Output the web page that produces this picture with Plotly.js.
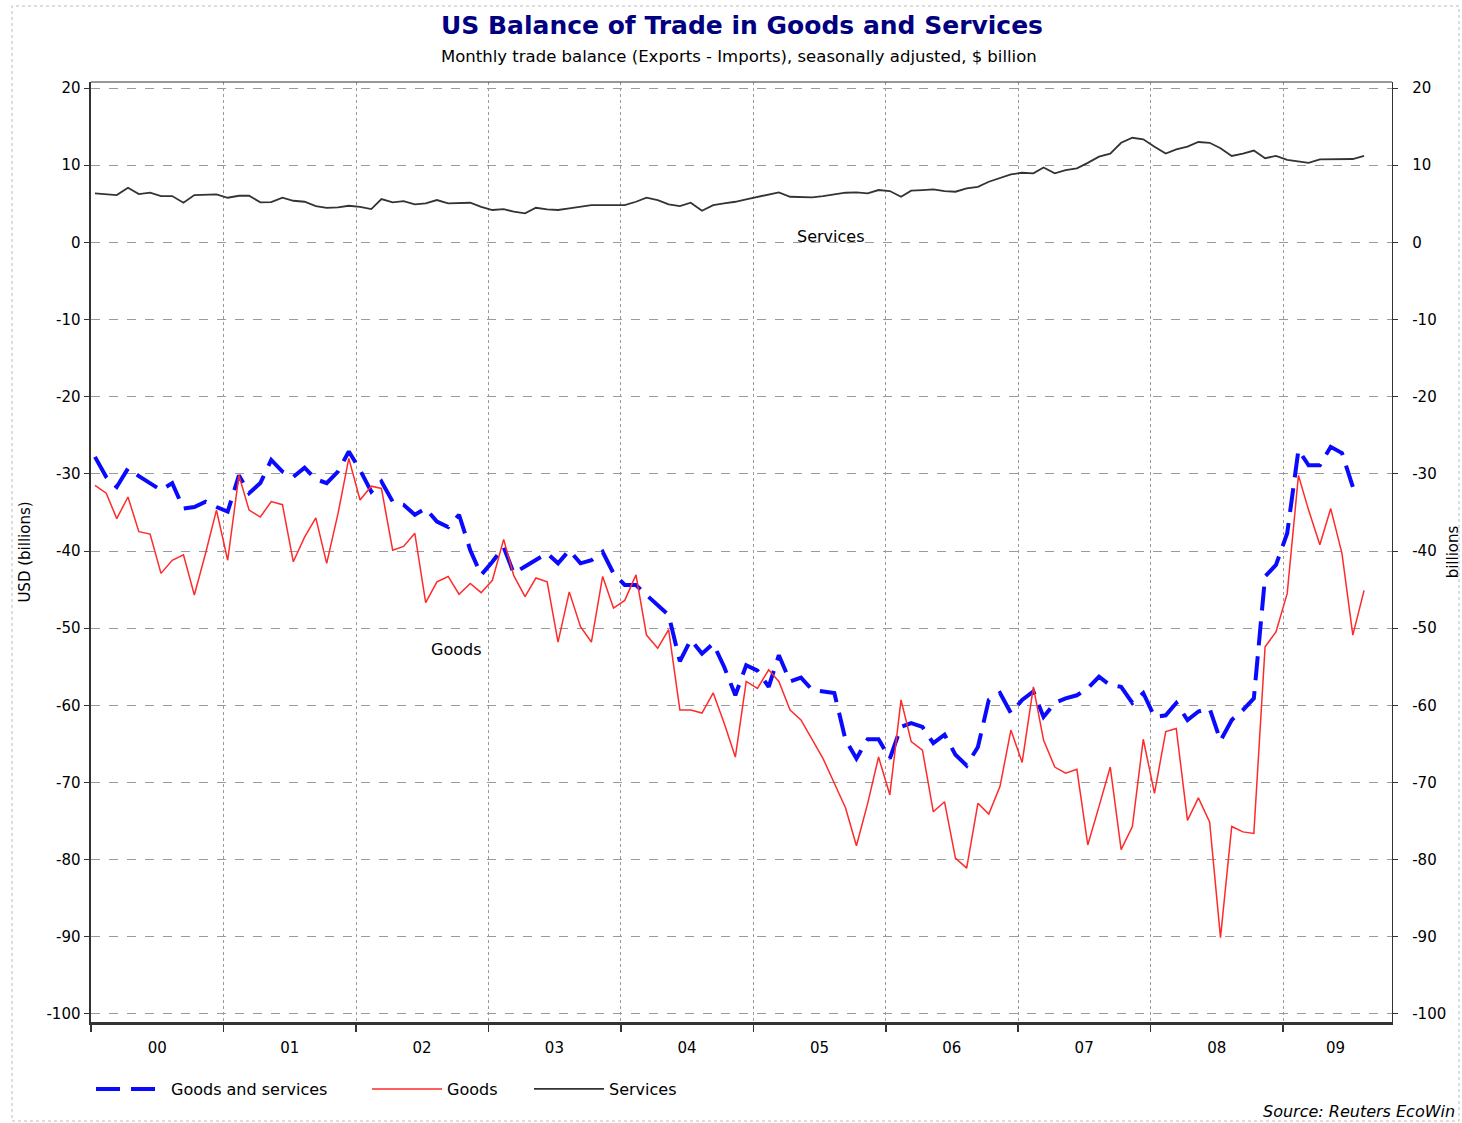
<!DOCTYPE html>
<html>
<head>
<meta charset="utf-8">
<script src="https://cdn.plot.ly/plotly-3.0.1.min.js"></script>
<style>
  html, body { margin: 0; padding: 0; background: #fff; }
  #chart { width: 1462px; height: 1123px; }
</style>
</head>
<body>
<div id="chart"></div>
<script>
// ---- Data (monthly, Jan 2000 onwards, $ billion) ----
const startYear = 2000;

const goodsAndServices = [
  -27.8, -30.4, -31.7, -29.3, -30.3, -31.2, -32.1, -31.2, -34.5, -34.3, -33.6, -34.3,
  -34.9, -30.2, -32.5, -31.2, -28.2, -29.7, -30.4, -29.2, -30.7, -31.2, -29.7, -27.1,
  -29.5, -32.3, -31.0, -33.6, -34.0, -35.3, -34.5, -36.2, -36.9, -35.3, -39.9, -43.1,
  -41.4, -39.5, -42.9, -42.0, -41.2, -40.3, -41.6, -39.9, -41.6, -41.2, -40.1, -42.9,
  -44.4, -44.4, -45.7, -47.0, -48.3, -54.3, -51.5, -53.3, -52.0, -55.0, -58.7, -54.8,
  -55.5, -57.6, -53.5, -56.9, -56.4, -58.0, -58.2, -58.4, -64.5, -66.9, -64.4, -64.4,
  -66.9, -62.8, -62.3, -62.8, -64.9, -63.8, -66.4, -67.8, -65.4, -59.3, -58.4, -61.0,
  -59.3, -58.2, -61.5, -59.7, -59.1, -58.7, -57.8, -56.3, -57.4, -57.6, -59.7, -58.4,
  -61.5, -61.3, -59.7, -61.9, -60.8, -60.4, -64.6, -61.9, -60.6, -59.1, -43.3, -41.8,
  -37.7, -26.9, -28.9, -28.9, -26.5, -27.3, -31.7
];

const goods = [
  -31.5, -32.5, -35.8, -33.0, -37.5, -37.8, -42.9, -41.2, -40.5, -45.7, -40.3, -34.7,
  -41.2, -30.2, -34.7, -35.6, -33.6, -34.0, -41.4, -38.2, -35.7, -41.6, -35.2, -28.0,
  -33.4, -31.6, -31.9, -39.9, -39.4, -37.7, -46.7, -44.0, -43.3, -45.6, -44.2, -45.4,
  -43.8, -38.5, -43.2, -45.9, -43.5, -44.0, -51.8, -45.3, -49.8, -51.8, -43.3, -47.4,
  -46.4, -43.1, -50.9, -52.6, -50.2, -60.6, -60.6, -61.0, -58.4, -62.3, -66.7, -56.9,
  -57.8, -55.4, -56.9, -60.6, -61.9, -64.5, -66.9, -70.1, -73.3, -78.2, -72.7, -66.7,
  -71.6, -59.3, -64.7, -65.8, -73.8, -72.5, -79.8, -81.1, -72.7, -74.1, -70.5, -63.2,
  -67.4, -57.6, -64.5, -68.0, -68.8, -68.3, -78.1, -73.1, -68.0, -78.7, -75.7, -64.4,
  -71.4, -63.4, -63.0, -74.9, -72.0, -75.1, -90.1, -75.7, -76.4, -76.6, -52.4, -50.5,
  -45.5, -30.2, -34.7, -39.2, -34.5, -40.3, -50.9, -45.1
];

const services = [
  6.35, 6.26, 6.13, 7.08, 6.26, 6.43, 6.00, 6.00, 5.13, 6.13, 6.13, 6.22,
  5.78, 6.04, 6.04, 5.18, 5.22, 5.78, 5.39, 5.26, 4.70, 4.48, 4.53, 4.74,
  4.61, 4.31, 5.61, 5.18, 5.35, 4.92, 5.05, 5.48, 5.05, 5.13, 5.13, 4.61,
  4.19, 4.31, 3.97, 3.76, 4.48, 4.28, 4.19, 4.41, 4.61, 4.83, 4.83, 4.83,
  4.83, 5.26, 5.78, 5.48, 4.92, 4.70, 5.13, 4.10, 4.83, 5.05, 5.26, 5.57,
  5.91, 6.26, 6.48, 5.91, 5.83, 5.83, 6.00, 6.22, 6.43, 6.48, 6.35, 6.78,
  6.65, 5.91, 6.69, 6.78, 6.87, 6.65, 6.56, 7.00, 7.20, 7.85, 8.29, 8.81,
  9.02, 8.94, 9.70, 8.94, 9.37, 9.59, 10.30, 11.10, 11.50, 12.90, 13.55, 13.35,
  12.40, 11.50, 12.05, 12.40, 13.00, 12.90, 12.20, 11.20, 11.50, 11.90, 10.90, 11.20,
  10.70, 10.50, 10.30, 10.75, 10.75, 10.75, 10.80, 11.20
];

const yTickValues = [20, 10, 0, -10, -20, -30, -40, -50, -60, -70, -80, -90, -100];
const yTickLabels = ['20', '10', '0', '-10', '-20', '-30', '-40', '-50', '-60', '-70', '-80', '-90', '-100'];

// x-axis year labels and where they sit (centre of the visible part of each year)
const yearLabels = ['00', '01', '02', '03', '04', '05', '06', '07', '08', '09'];
const yearLabelDates = ['2000-07-02', '2001-07-02', '2002-07-02', '2003-07-02', '2004-07-02',
                        '2005-07-02', '2006-07-02', '2007-07-02', '2008-07-02', '2009-05-25'];

// month dates (mid-month plotting position)
function monthDates(n) {
  const out = [];
  for (let i = 0; i < n; i++) {
    const y = startYear + Math.floor(i / 12);
    const m = (i % 12) + 1;
    out.push(y + '-' + (m < 10 ? '0' + m : m) + '-12');
  }
  return out;
}

const FONT = 'DejaVu Sans, Verdana, sans-serif';

const traces = [
  {
    name: 'Goods and services',
    legend: 'legend',
    x: monthDates(goodsAndServices.length),
    y: goodsAndServices,
    type: 'scatter', mode: 'lines',
    line: { color: '#0a0aff', width: 4, dash: '24px,11px' },
    hoverinfo: 'x+y'
  },
  {
    name: 'Goods',
    legend: 'legend2',
    x: monthDates(goods.length),
    y: goods,
    type: 'scatter', mode: 'lines',
    line: { color: '#ff2a2a', width: 1.5 },
    hoverinfo: 'x+y'
  },
  {
    name: 'Services',
    legend: 'legend3',
    x: monthDates(services.length),
    y: services,
    yaxis: 'y2',
    type: 'scatter', mode: 'lines',
    line: { color: '#333333', width: 1.8 },
    hoverinfo: 'x+y'
  }
];

const yRange = [-101.04, 20.78];

function legendAt(px) {
  return {
    orientation: 'h',
    x: (px - 91) / 1301, xanchor: 'left',
    y: (1022 - 1089) / 940, yanchor: 'middle',
    font: { family: FONT, size: 16, color: '#000' },
    itemwidth: 70,
    bgcolor: 'rgba(0,0,0,0)'
  };
}

const layout = {
  width: 1462, height: 1123,
  paper_bgcolor: '#ffffff', plot_bgcolor: '#ffffff',
  margin: { l: 91, r: 70, t: 82, b: 101 },
  font: { family: FONT, size: 14, color: '#000' },
  title: {
    text: 'US Balance of Trade in Goods and Services',
    font: { family: FONT, size: 25, color: '#000080', weight: 'bold' },
    x: 742 / 1462, xanchor: 'center', xref: 'container',
    y: 1 - 25 / 1123, yanchor: 'middle', yref: 'container'
  },
  showlegend: true,
  legend: legendAt(91),
  legend2: legendAt(367),
  legend3: legendAt(529),
  xaxis: {
    type: 'date',
    range: ['2000-01-01', '2009-10-28'],
    tickmode: 'array',
    tickvals: yearLabelDates, ticktext: yearLabels,
    ticks: '', showgrid: false,
    ticklabelstandoff: 10,
    minor: {
      tick0: '2000-01-01', dtick: 'M12',
      ticks: 'outside', ticklen: 7, tickcolor: '#333', tickwidth: 1.5,
      showgrid: true, gridcolor: '#9a9a9a', griddash: 'dot', gridwidth: 1
    },
    showline: true, linecolor: '#333', linewidth: 2.5, mirror: false,
    zeroline: false,
    tickfont: { family: FONT, size: 15, color: '#000' },
    fixedrange: true
  },
  yaxis: {
    range: yRange,
    tickvals: yTickValues, ticktext: yTickLabels,
    ticks: 'outside', ticklen: 5, tickcolor: '#333',
    showgrid: true, gridcolor: '#9a9a9a', griddash: 'dash', gridwidth: 1,
    showline: true, linecolor: '#333', linewidth: 2.5,
    zeroline: false,
    tickfont: { family: FONT, size: 15, color: '#000' },
    title: { text: 'USD (billions)', font: { family: FONT, size: 15, color: '#000' }, standoff: 12 },
    fixedrange: true
  },
  yaxis2: {
    overlaying: 'y', side: 'right', anchor: 'x',
    range: yRange,
    tickvals: yTickValues, ticktext: yTickLabels,
    ticks: 'outside', ticklen: 5, tickcolor: '#333',
    ticklabelstandoff: 11,
    showgrid: false,
    showline: true, linecolor: '#333', linewidth: 1.2,
    zeroline: false,
    tickfont: { family: FONT, size: 15, color: '#000' },
    title: { text: 'billions', font: { family: FONT, size: 15, color: '#000' }, standoff: 12 },
    fixedrange: true
  },
  annotations: [
    {
      text: 'Monthly trade balance (Exports - Imports), seasonally adjusted, $ billion',
      xref: 'paper', yref: 'paper', x: (739 - 91) / 1301, y: (1022 - 57) / 940,
      xanchor: 'center', yanchor: 'middle', showarrow: false,
      font: { family: FONT, size: 16.5, color: '#000' }
    },
    {
      text: 'Services', xref: 'x', yref: 'y',
      x: '2005-08-01', y: 0.8, xanchor: 'center', yanchor: 'middle',
      showarrow: false, font: { family: FONT, size: 16, color: '#000' }
    },
    {
      text: 'Goods', xref: 'x', yref: 'y',
      x: '2002-10-03', y: -52.8, xanchor: 'center', yanchor: 'middle',
      showarrow: false, font: { family: FONT, size: 16, color: '#000' }
    },
    {
      text: '<i>Source: Reuters EcoWin</i>',
      xref: 'paper', yref: 'paper', x: (1457 - 91) / 1301, y: (1022 - 1111) / 940,
      xanchor: 'right', yanchor: 'middle', showarrow: false,
      font: { family: FONT, size: 16, color: '#000' }
    }
  ],
  shapes: [
    {
      type: 'line', xref: 'paper', yref: 'paper',
      x0: 0, x1: 1, y0: 1, y1: 1,
      line: { color: '#333', width: 1.2 }
    },
    {
      type: 'rect', xref: 'paper', yref: 'paper',
      x0: (12 - 91) / 1301, x1: (1459 - 91) / 1301,
      y0: (1022 - 1121) / 940, y1: (1022 - 6) / 940,
      line: { color: '#bbbbbb', width: 1, dash: 'dot' },
      fillcolor: 'rgba(0,0,0,0)', layer: 'below'
    }
  ]
};

Plotly.newPlot('chart', traces, layout, { displayModeBar: false, staticPlot: true });
</script>
</body>
</html>
